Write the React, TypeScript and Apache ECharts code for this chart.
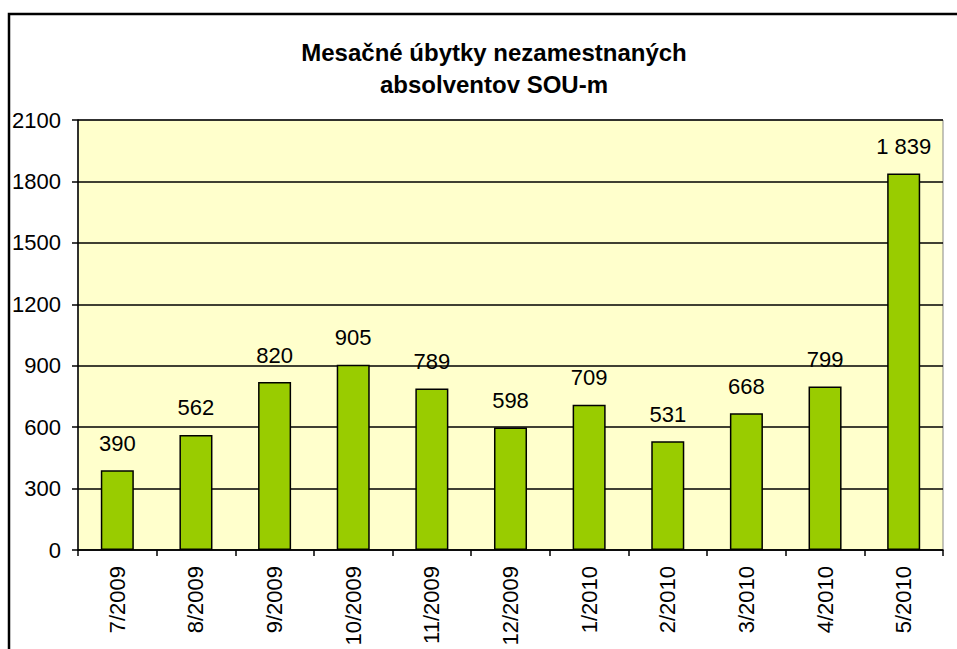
import React, { useEffect, useRef } from "react";
import * as echarts from "echarts";

const categories = ["7/2009", "8/2009", "9/2009", "10/2009", "11/2009", "12/2009", "1/2010", "2/2010", "3/2010", "4/2010", "5/2010"];
const values = [390, 562, 820, 905, 789, 598, 709, 531, 668, 799, 1839];
const titleText = "Mesačné úbytky nezamestnaných\nabsolventov SOU-m";

const FONT = "Arial, 'Liberation Sans', sans-serif";

function fmt(v: number): string {
  const s = String(Math.round(v));
  return s.replace(/\B(?=(\d{3})+(?!\d))/g, " ");
}

export default function App() {
  const ref = useRef<HTMLDivElement>(null);
  useEffect(() => {
    if (!ref.current) return;
    const chart = echarts.init(ref.current, undefined, { renderer: "svg" });
    chart.setOption({
      animation: false,
      backgroundColor: "#ffffff",
      title: {
        text: titleText,
        left: 489,
        top: 31,
        textAlign: "center",
        textStyle: {
          fontFamily: FONT,
          fontSize: 24,
          fontWeight: "bold",
          color: "#000",
          lineHeight: 32,
        },
      },
      graphic: [
        {
          type: "polyline",
          shape: { points: [[9, 660], [9, 14], [970, 14]] },
          style: { stroke: "#000", lineWidth: 2.5, fill: "none" },
          silent: true,
        },
      ],
      grid: {
        left: 78,
        top: 120,
        right: 14,
        bottom: 99,
        show: true,
        backgroundColor: "#FFFFCC",
        borderColor: "#888888",
        borderWidth: 1,
      },
      xAxis: {
        type: "category",
        data: categories,
        boundaryGap: true,
        axisLine: { show: true, lineStyle: { color: "#000", width: 1.5 } },
        axisTick: { show: true, alignWithLabel: false, length: 6, lineStyle: { color: "#000", width: 1.5 } },
        axisLabel: {
          rotate: 90,
          interval: 0,
          margin: 16,
          fontFamily: FONT,
          fontSize: 22,
          color: "#000",
        },
      },
      yAxis: {
        type: "value",
        min: 0,
        max: 2100,
        interval: 300,
        axisLine: { show: true, lineStyle: { color: "#000", width: 1.5 } },
        axisTick: { show: true, length: 6, lineStyle: { color: "#000", width: 1.5 } },
        axisLabel: {
          margin: 17,
          fontFamily: FONT,
          fontSize: 22,
          color: "#000",
          formatter: (v: number) => String(v),
        },
        splitLine: { show: true, lineStyle: { color: "#000", width: 1.5 } },
      },
      series: [
        {
          type: "bar",
          data: values,
          barWidth: "42%",
          itemStyle: { color: "#99CC00", borderColor: "#000", borderWidth: 1.5 },
          label: {
            show: true,
            position: "top",
            distance: 16,
            fontFamily: FONT,
            fontSize: 22,
            color: "#000",
            formatter: (p: any) => fmt(p.value),
          },
        },
      ],
    });
    return () => chart.dispose();
  }, []);
  return <div ref={ref} style={{ position: "absolute", left: 0, top: 0, width: 957, height: 649 }} />;
}
